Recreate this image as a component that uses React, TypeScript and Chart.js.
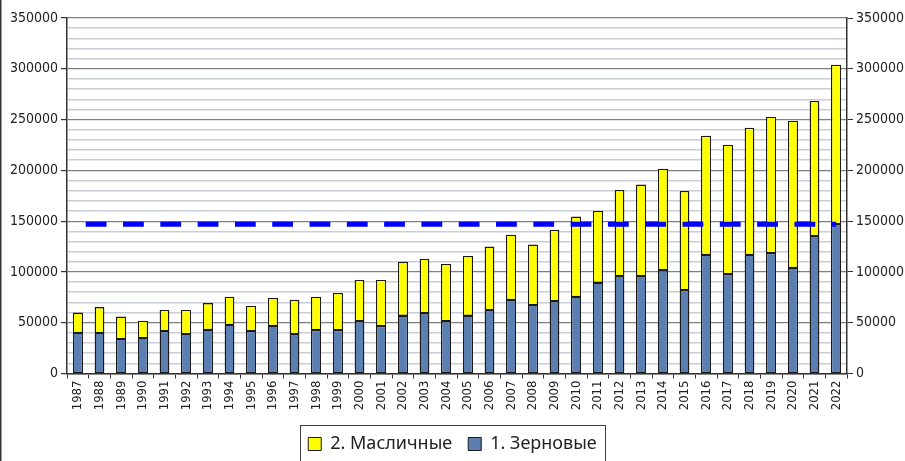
import React, { useEffect, useRef } from "react";
import { Chart, registerables } from "chart.js";

Chart.register(...registerables);

const years: string[] = [
  "1987", "1988", "1989", "1990", "1991", "1992", "1993", "1994", "1995", "1996",
  "1997", "1998", "1999", "2000", "2001", "2002", "2003", "2004", "2005", "2006",
  "2007", "2008", "2009", "2010", "2011", "2012", "2013", "2014", "2015", "2016",
  "2017", "2018", "2019", "2020", "2021", "2022",
];

// 1. Зерновые
const grain: number[] = [
  40000, 40000, 34000, 35000, 41500, 39000, 43000, 48000, 41500, 47000,
  39000, 42500, 42500, 51500, 46500, 57000, 59500, 51500, 57000, 62500,
  72500, 67500, 71000, 75500, 89500, 96000, 96000, 101500, 82000, 117000,
  97500, 117000, 118500, 104000, 135000, 147000,
];

const totals: number[] = [
  60000, 65000, 56000, 52000, 62500, 62500, 69000, 75500, 66500, 74000,
  72500, 75500, 79000, 92000, 92000, 110000, 113000, 107500, 115500, 125000,
  136500, 127000, 141500, 154500, 160000, 180500, 186000, 201500, 179500, 234000,
  225000, 242000, 252500, 248500, 268000, 304000,
];

// 2. Масличные
const oilseeds: number[] = totals.map((t, i) => t - grain[i]);

// Reference level (dashed line)
const referenceLevel: number[] = years.map(() => 147000);

const yTickValues: number[] = [0, 50000, 100000, 150000, 200000, 250000, 300000, 350000];

const FONT = "'DejaVu Sans Condensed', 'DejaVu Sans', sans-serif";
const LEGEND_FONT = "'Noto Sans', 'DejaVu Sans', sans-serif";

export default function App() {
  const ref = useRef<HTMLCanvasElement | null>(null);

  useEffect(() => {
    document.body.style.margin = "0";
    const canvas = ref.current;
    if (!canvas) return;

    const isMajor = (v: number) => yTickValues.includes(v);

    const framePlugin = {
      id: "frames",
      afterDatasetDraw(chart: any, args: any) {
        const meta = args.meta;
        if (meta.type !== "bar") return;
        const ctx = chart.ctx;
        ctx.save();
        ctx.strokeStyle = "#1a1a1a";
        ctx.lineWidth = 1;
        meta.data.forEach((el: any) => {
          const p = el.getProps(["x", "y", "base", "width"], true);
          const left = Math.round(p.x - p.width / 2) + 0.5;
          const right = Math.round(p.x + p.width / 2) - 0.5;
          const top = Math.round(Math.min(p.y, p.base)) + 0.5;
          const bottom = Math.round(Math.max(p.y, p.base)) - 0.5;
          ctx.strokeRect(left, top, right - left, bottom - top);
        });
        ctx.restore();
      },
      afterDraw(chart: any) {
        const ctx = chart.ctx;
        ctx.save();
        // left edge frame line
        ctx.fillStyle = "#333";
        ctx.fillRect(0, 0, 1, chart.height);
        ctx.fillStyle = "#999";
        ctx.fillRect(1, 0, 1, chart.height);
        // legend frame
        const lg = chart.legend;
        const hb = lg && lg.legendHitBoxes;
        if (hb && hb.length) {
          const first = hb[0];
          const last = hb[hb.length - 1];
          const left = Math.round(first.left - 8.5) + 0.5;
          const right = Math.round(last.left + last.width + 8) + 0.5;
          const cy = first.top + first.height / 2;
          const top = Math.round(cy - 19.5) + 0.5;
          ctx.strokeStyle = "#404040";
          ctx.lineWidth = 1;
          ctx.strokeRect(left, top, right - left, 80);
        }
        ctx.restore();
      },
    };

    const chart = new Chart(canvas, {
      type: "bar",
      data: {
        labels: years,
        datasets: [
          {
            type: "line",
            label: "level",
            data: referenceLevel,
            yAxisID: "y2",
            borderColor: "#0000ff",
            borderWidth: 5,
            borderDash: [20.8, 16.5],
            borderDashOffset: 29.4,
            borderCapStyle: "butt",
            pointRadius: 0,
            fill: false,
            order: 0,
          } as any,
          {
            label: "1. Зерновые",
            data: grain,
            yAxisID: "y",
            backgroundColor: "#5b7fb1",
            borderColor: "#1a1a1a",
            borderWidth: 1,
            borderSkipped: false,
            barPercentage: 0.45,
            categoryPercentage: 1,
            order: 1,
          },
          {
            label: "2. Масличные",
            data: oilseeds,
            yAxisID: "y",
            backgroundColor: "#ffff00",
            borderColor: "#1a1a1a",
            borderWidth: 1,
            borderSkipped: false,
            barPercentage: 0.45,
            categoryPercentage: 1,
            order: 1,
          },
        ],
      },
      options: {
        animation: false,
        responsive: false,
        maintainAspectRatio: false,
        layout: { padding: { top: 18, left: 0, right: 0, bottom: -2 } },
        plugins: {
          tooltip: { enabled: false },
          legend: {
            display: true,
            position: "bottom",
            reverse: true,
            labels: {
              filter: (item: any) => item.text !== "level",
              font: { family: LEGEND_FONT, size: 18 },
              color: "#222",
              boxWidth: 13,
              boxHeight: 13,
              padding: 16,
            },
          },
        },
        scales: {
          x: {
            stacked: true,
            offset: true,
            grid: {
              offset: true,
              drawOnChartArea: false,
              drawTicks: true,
              tickLength: 5,
              color: "#333",
              tickColor: "#333",
            },
            border: { color: "#333", width: 1.5 },
            ticks: {
              autoSkip: false,
              minRotation: 90,
              maxRotation: 90,
              padding: 2,
              color: "#222",
              font: { family: FONT, size: 13 },
            },
            afterFit: (s: any) => {
              s.height = 45.5;
            },
          },
          y: {
            stacked: true,
            position: "left",
            min: 0,
            max: 350000,
            ticks: {
              stepSize: 10000,
              autoSkip: false,
              padding: 3,
              color: "#222",
              font: { family: FONT, size: 14 },
              callback: (v: any) => (isMajor(Number(v)) ? String(v) : ""),
            },
            grid: {
              color: (c: any) => (isMajor(c.tick.value) ? "#7f7f7f" : "#c9ced6"),
              lineWidth: (c: any) => (isMajor(c.tick.value) ? 1.2 : 1.5),
              tickColor: (c: any) => (isMajor(c.tick.value) ? "#333" : "rgba(0,0,0,0)"),
              tickLength: 6,
            },
            border: { color: "#333", width: 1.5 },
            afterFit: (s: any) => {
              s.width = 67;
            },
          },
          y2: {
            position: "right",
            stacked: false,
            min: 0,
            max: 350000,
            ticks: {
              stepSize: 10000,
              autoSkip: false,
              padding: 3,
              color: "#222",
              font: { family: FONT, size: 14 },
              callback: (v: any) => (isMajor(Number(v)) ? String(v) : ""),
            },
            grid: {
              drawOnChartArea: false,
              tickColor: (c: any) => (isMajor(c.tick.value) ? "#333" : "rgba(0,0,0,0)"),
              tickLength: 6,
            },
            border: { color: "#333", width: 1.5 },
            afterFit: (s: any) => {
              s.width = 58;
            },
          },
        },
      },
      plugins: [framePlugin],
    } as any);

    return () => {
      chart.destroy();
    };
  }, []);

  return (
    <div style={{ width: 905, height: 461, background: "#fff" }}>
      <canvas ref={ref} width={905} height={461} style={{ display: "block" }} />
    </div>
  );
}
